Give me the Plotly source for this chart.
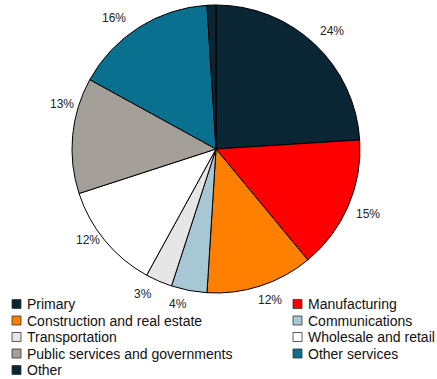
import math
import plotly.graph_objects as go

# Share of output by sector (%)
sectors = [
    "Primary", "Manufacturing", "Construction and real estate", "Communications",
    "Transportation", "Wholesale and retail", "Public services and governments",
    "Other services", "Other",
]
shares = [24, 15, 12, 4, 3, 12, 13, 16, 1]
colors = [
    "#0a2533", "#ff0000", "#ff8000", "#a8c7d5",
    "#e6e6e6", "#ffffff", "#a59f9a", "#0a7090", "#0a2533",
]
# the tiny "Other" slice carries no label
show_label = [True] * 8 + [False]

W, H = 437, 379
cx, cy, r = 216, 149, 144          # pie centre and radius in pixels
FONT = "Liberation Sans, Arial, sans-serif"
# label placement: angular nudge (deg) off each slice's mid angle, and radius (px)
label_nudge = [1.3, -0.2, -1.7, 3.0, 3.3, 4.2, 11.0, -5.6, 0]
label_r = [165, 165, 160, 160, 162, 157, 161, 166, 160]


def px(x):
    return x / W


def py(y):
    return 1 - y / H


fig = go.Figure(
    go.Pie(
        labels=sectors,
        values=shares,
        sort=False,
        direction="clockwise",
        rotation=0,
        marker=dict(colors=colors, line=dict(color="#000000", width=1)),
        textinfo="none",
        domain=dict(x=[px(cx - r), px(cx + r)], y=[py(cy + r), py(cy - r)]),
        hoverinfo="label+percent",
        showlegend=False,
    )
)

# percentage labels placed outside each slice near its mid angle
total = sum(shares)
cum = 0
for v, show, nudge, rr in zip(shares, show_label, label_nudge, label_r):
    mid = (cum + v / 2) / total * 2 * math.pi + math.radians(nudge)
    cum += v
    if not show:
        continue
    lx = cx + rr * math.sin(mid)
    ly = cy - rr * math.cos(mid)
    fig.add_annotation(
        x=px(lx), y=py(ly), xref="paper", yref="paper",
        text=f"{round(v / total * 100)}%", showarrow=False,
        xanchor="center", yanchor="middle",
        font=dict(family=FONT, size=12, color="#222222"),
    )

# two-column legend beneath the pie
leg_x0, leg_col_w, leg_y0, leg_row_h, sq = 12, 281, 304, 16.5, 9
for i, (name, c) in enumerate(zip(sectors, colors)):
    col, row = i % 2, i // 2
    x0 = leg_x0 + col * leg_col_w
    yc = leg_y0 + row * leg_row_h
    fig.add_shape(
        type="rect", xref="paper", yref="paper",
        x0=px(x0), x1=px(x0 + sq), y0=py(yc + sq / 2), y1=py(yc - sq / 2),
        fillcolor=c, line=dict(color="#333333", width=0.8),
    )
    fig.add_annotation(
        x=px(x0 + sq + 4), y=py(yc), xref="paper", yref="paper",
        text=name, showarrow=False, xanchor="left", yanchor="middle",
        font=dict(family=FONT, size=14, color="#111111"),
    )

fig.update_layout(
    width=W,
    height=H,
    margin=dict(l=0, r=0, t=0, b=0, autoexpand=False),
    paper_bgcolor="white",
    plot_bgcolor="white",
    font=dict(family=FONT, size=12, color="#000000"),
)

fig.write_html("out.html")
